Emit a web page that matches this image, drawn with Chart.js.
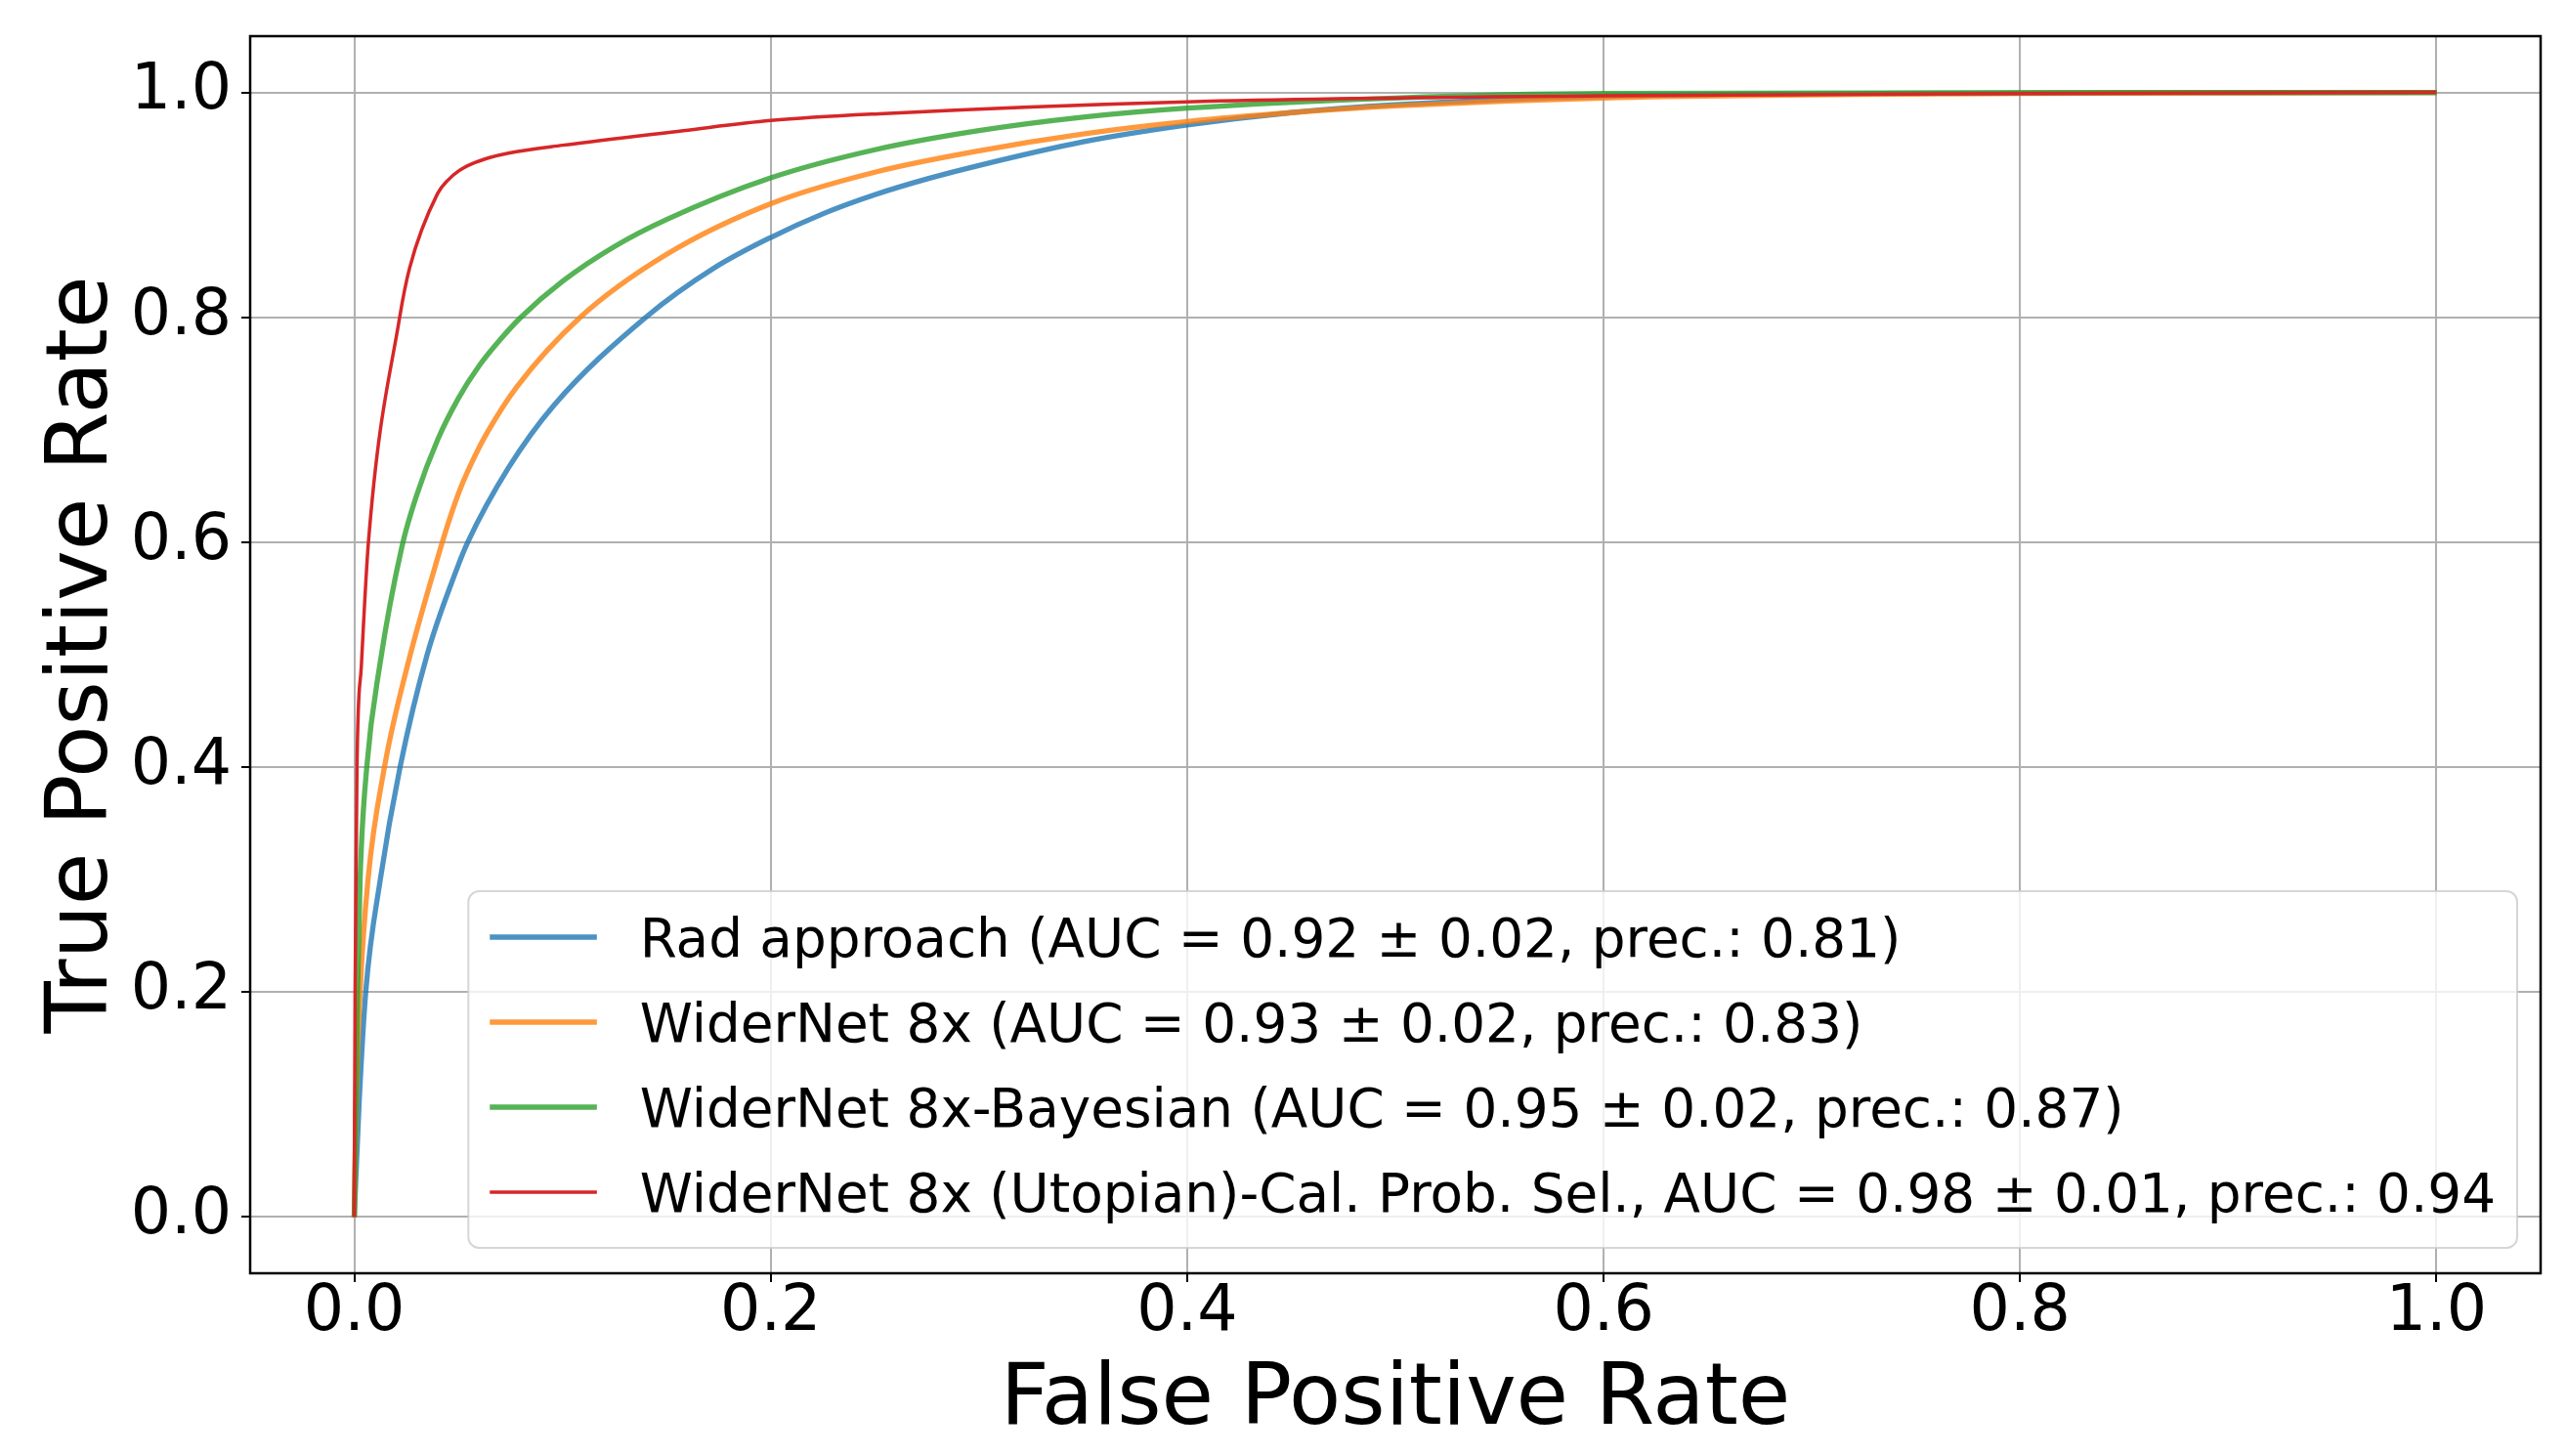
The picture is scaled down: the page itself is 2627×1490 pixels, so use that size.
<!DOCTYPE html>
<html>
<head>
<meta charset="utf-8">
<script src="https://cdn.jsdelivr.net/npm/chart.js@4.4.0/dist/chart.umd.min.js"></script>
<style>
  html, body { margin: 0; padding: 0; background: #fff; }
  canvas { display: block; }
</style>
</head>
<body>
<canvas id="roc" width="2627" height="1490"></canvas>
<script>
// ROC points
const fprRad = [0, 0.0023, 0.0055, 0.0125, 0.022, 0.035, 0.049, 0.0545, 0.074, 0.096, 0.14, 0.173, 0.2, 0.225, 0.25, 0.275, 0.3, 0.35, 0.4, 0.45, 0.5, 0.6, 0.8, 1.0];
const tprRad = [0, 0.1, 0.2, 0.3, 0.4, 0.50, 0.575, 0.6, 0.666, 0.722, 0.8, 0.844, 0.871, 0.892, 0.909, 0.923, 0.935, 0.956, 0.971, 0.982, 0.989, 0.9965, 0.9995, 1.0];

const fprWide = [0, 0.0009, 0.0028, 0.0066, 0.0145, 0.0255, 0.041, 0.046, 0.051, 0.0575, 0.064, 0.078, 0.1085, 0.15, 0.2, 0.25, 0.3, 0.35, 0.4, 0.45, 0.5, 0.6, 0.8, 1.0];
const tprWide = [0, 0.1, 0.2, 0.3, 0.4, 0.49, 0.592, 0.622, 0.648, 0.675, 0.698, 0.738, 0.8, 0.856, 0.901, 0.929, 0.948, 0.963, 0.974, 0.982, 0.988, 0.995, 0.999, 1.0];

const fprBayes = [0, 0.0016, 0.0028, 0.006, 0.0122, 0.023, 0.03, 0.04, 0.05, 0.06, 0.07, 0.08, 0.1, 0.125, 0.15, 0.2, 0.25, 0.3, 0.35, 0.4, 0.5, 0.6, 1.0];
const tprBayes = [0, 0.2, 0.3, 0.4, 0.49, 0.597, 0.642, 0.691, 0.728, 0.757, 0.780, 0.8, 0.832, 0.863, 0.887, 0.924, 0.949, 0.966, 0.978, 0.986, 0.995, 0.999, 1.0];

const fprUtop = [0, 0.0004, 0.0013, 0.0034, 0.0068, 0.0218, 0.0266, 0.040, 0.045, 0.050, 0.056, 0.065, 0.074, 0.1, 0.158, 0.2, 0.252, 0.4, 0.6, 0.8, 1.0];
const tprUtop = [0, 0.2, 0.4, 0.49, 0.6, 0.8, 0.844, 0.91, 0.922, 0.93, 0.936, 0.942, 0.946, 0.953, 0.966, 0.975, 0.981, 0.9916, 0.997, 0.999, 1.0];

const seriesLabels = [
    'Rad approach (AUC = 0.92 ± 0.02, prec.: 0.81)',
    'WiderNet 8x (AUC = 0.93 ± 0.02, prec.: 0.83)',
    'WiderNet 8x-Bayesian (AUC = 0.95 ± 0.02, prec.: 0.87)',
    'WiderNet 8x (Utopian)-Cal. Prob. Sel., AUC = 0.98 ± 0.01, prec.: 0.94'
];

const xTicks = [0, 0.2, 0.4, 0.6, 0.8, 1.0];
const yTicks = [0, 0.2, 0.4, 0.6, 0.8, 1.0];

const toPoints = (xs, ys) => xs.map((x, i) => ({ x: x, y: ys[i] }));

Chart.defaults.font.family = '"DejaVu Sans", sans-serif';
Chart.defaults.color = '#000';

// Frame round the plot area (matplotlib spines)
const frame = {
    id: 'frame',
    afterDatasetsDraw(chart) {
        const { ctx, chartArea: a } = chart;
        ctx.save();
        ctx.strokeStyle = '#000';
        ctx.lineWidth = 2.5;
        ctx.strokeRect(a.left, a.top, a.right - a.left, a.bottom - a.top);
        ctx.restore();
    }
};

// Legend box in the lower right, drawn like matplotlib's
const legendBox = {
    id: 'legendBox',
    afterDraw(chart) {
        const { ctx, chartArea: a } = chart;
        const fs = 54.8;
        const sets = chart.data.datasets;
        ctx.save();
        ctx.font = fs + 'px "DejaVu Sans"';
        const textW = Math.max(...sets.map(d => ctx.measureText(d.label).width));
        const rowH = 87;
        const w = 0.4 * fs + 2 * fs + 0.8 * fs + textW + 0.4 * fs;
        const h = 365;
        const right = a.right - 24, bottom = a.bottom - 26;
        const left = right - w, top = bottom - h;

        ctx.beginPath();
        ctx.roundRect(left, top, w, h, 11);
        ctx.fillStyle = 'rgba(255,255,255,0.8)';
        ctx.fill();
        ctx.strokeStyle = 'rgba(204,204,204,0.8)';
        ctx.lineWidth = 2;
        ctx.stroke();

        sets.forEach((d, i) => {
            const cy = top + 47 + i * rowH;
            const hx = left + 0.4 * fs;
            ctx.beginPath();
            ctx.moveTo(hx, cy);
            ctx.lineTo(hx + 2 * fs, cy);
            ctx.strokeStyle = d.borderColor;
            ctx.lineWidth = d.borderWidth;
            ctx.stroke();
            ctx.fillStyle = '#000';
            ctx.textAlign = 'left';
            ctx.textBaseline = 'alphabetic';
            ctx.fillText(d.label, hx + 2.8 * fs, cy + 0.3645 * fs);
        });
        ctx.restore();
    }
};

const lineSet = (label, xs, ys, color, width, order) => ({
    label: label,
    data: toPoints(xs, ys),
    borderColor: color,
    borderWidth: width,
    pointRadius: 0,
    fill: false,
    cubicInterpolationMode: 'monotone',
    order: order
});

new Chart(document.getElementById('roc'), {
    type: 'line',
    data: {
        datasets: [
            lineSet(seriesLabels[0], fprRad, tprRad, 'rgba(31,119,180,0.8)', 5.3, 4),
            lineSet(seriesLabels[1], fprWide, tprWide, 'rgba(255,127,14,0.8)', 5.3, 3),
            lineSet(seriesLabels[2], fprBayes, tprBayes, 'rgba(44,160,44,0.8)', 5.3, 2),
            lineSet(seriesLabels[3], fprUtop, tprUtop, '#d62728', 3.5, 1)
        ]
    },
    options: {
        responsive: false,
        animation: false,
        devicePixelRatio: 1,
        layout: { padding: { top: 37, right: 27, left: 0, bottom: 0 } },
        plugins: {
            legend: { display: false },
            tooltip: { enabled: false }
        },
        scales: {
            x: {
                type: 'linear',
                min: -0.05,
                max: 1.05,
                afterBuildTicks: scale => { scale.ticks = xTicks.map(v => ({ value: v })); },
                afterFit: scale => { scale.height = 187; scale.paddingLeft = 0; scale.paddingRight = 0; },
                border: { display: false },
                grid: { color: '#b0b0b0', lineWidth: 2, tickLength: 9, tickColor: '#000', tickWidth: 2 },
                ticks: {
                    font: { size: 65, lineHeight: 1 },
                    padding: 0,
                    maxRotation: 0,
                    callback: v => v.toFixed(1)
                },
                title: {
                    display: true,
                    text: 'False Positive Rate',
                    font: { size: 87 },
                    padding: { top: 0, bottom: 3 }
                }
            },
            y: {
                type: 'linear',
                min: -0.05,
                max: 1.05,
                afterBuildTicks: scale => { scale.ticks = yTicks.map(v => ({ value: v })); },
                afterFit: scale => { scale.width = 256; scale.paddingTop = 0; scale.paddingBottom = 0; },
                border: { display: false },
                grid: { color: '#b0b0b0', lineWidth: 2, tickLength: 9, tickColor: '#000', tickWidth: 2 },
                ticks: {
                    font: { size: 65 },
                    padding: 10,
                    callback: v => v.toFixed(1)
                },
                title: {
                    display: true,
                    text: 'True Positive Rate',
                    font: { size: 87 },
                    padding: { top: 34, bottom: 0 }
                }
            }
        }
    },
    plugins: [frame, legendBox]
});
</script>
</body>
</html>
